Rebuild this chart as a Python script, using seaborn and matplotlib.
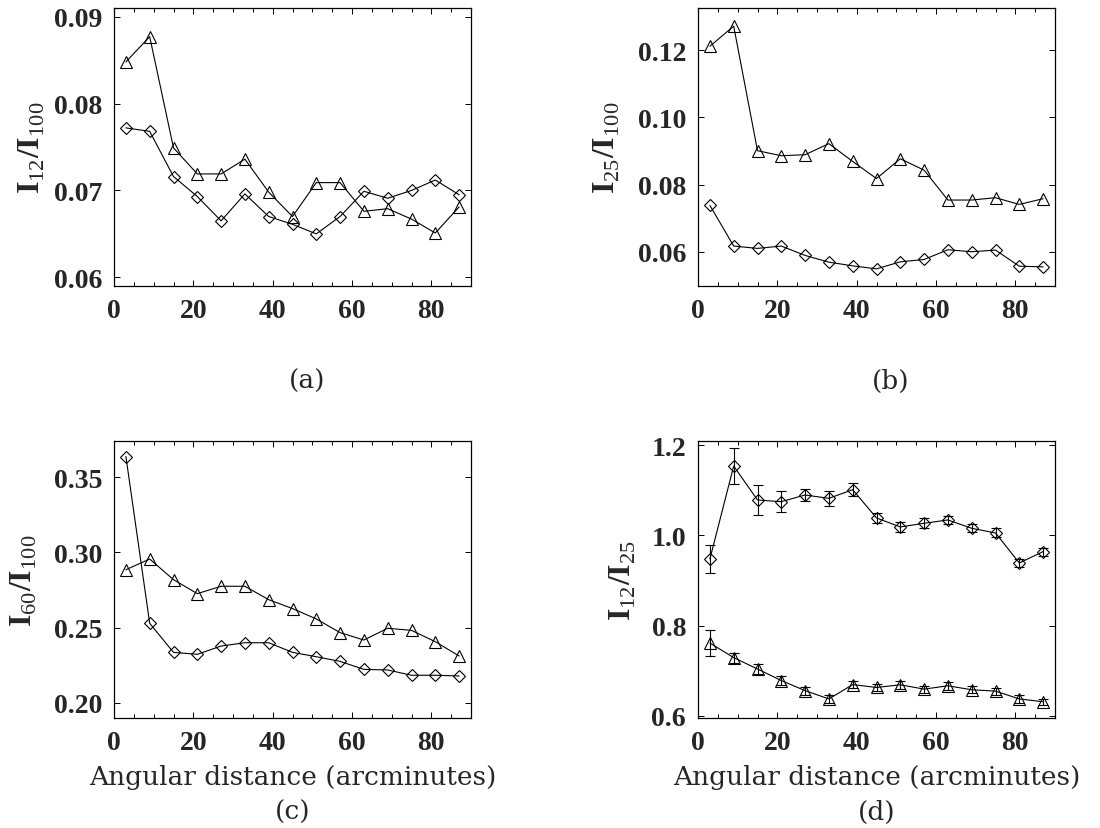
import matplotlib
matplotlib.use("Agg")
import matplotlib.pyplot as plt
from matplotlib.ticker import MultipleLocator, FormatStrFormatter
import seaborn as sns

sns.set_style("ticks")
plt.rcParams['font.family'] = ['DejaVu Serif']
plt.rcParams['mathtext.fontset'] = 'custom'
plt.rcParams['mathtext.rm'] = 'Liberation Serif'
plt.rcParams['mathtext.bf'] = 'Liberation Serif:bold'

# angular distance (arcmin)
dist = [3, 9, 15, 21, 27, 33, 39, 45, 51, 57, 63, 69, 75, 81, 87]

# (a) I12/I100
a_tri = [0.0848, 0.0877, 0.0749, 0.0719, 0.0719, 0.0736, 0.0698, 0.0670,
         0.0709, 0.0709, 0.0676, 0.0679, 0.0667, 0.0651, 0.0681]
a_dia = [0.0772, 0.0768, 0.0716, 0.0693, 0.0665, 0.0696, 0.0670, 0.0661,
         0.0650, 0.0670, 0.0699, 0.0691, 0.0700, 0.0712, 0.0695]
# (b) I25/I100
b_tri = [0.1212, 0.1272, 0.0901, 0.0886, 0.0889, 0.0922, 0.0869, 0.0818,
         0.0877, 0.0843, 0.0754, 0.0754, 0.0761, 0.0741, 0.0758]
b_dia = [0.0738, 0.0617, 0.0610, 0.0617, 0.0589, 0.0569, 0.0558, 0.0549,
         0.0570, 0.0577, 0.0606, 0.0600, 0.0605, 0.0557, 0.0555]
# (c) I60/I100
c_tri = [0.2885, 0.2956, 0.2819, 0.2726, 0.2775, 0.2775, 0.2686, 0.2627,
         0.2558, 0.2467, 0.2418, 0.2496, 0.2482, 0.2407, 0.2312]
c_dia = [0.3637, 0.2529, 0.2336, 0.2323, 0.2378, 0.2400, 0.2400, 0.2336,
         0.2307, 0.2276, 0.2223, 0.2219, 0.2184, 0.2184, 0.2179]
# (d) I12/I25 with errors
d_dia = [0.9476, 1.1535, 1.0782, 1.0745, 1.0893, 1.0819, 1.1011, 1.0384,
         1.0185, 1.0266, 1.0340, 1.0155, 1.0052, 0.9387, 0.9638]
d_dia_err = [0.031, 0.040, 0.034, 0.023, 0.014, 0.017, 0.014, 0.011,
             0.011, 0.011, 0.0096, 0.009, 0.010, 0.009, 0.009]
d_tri = [0.7612, 0.7288, 0.7037, 0.6780, 0.6557, 0.6373, 0.6690, 0.6627,
         0.6686, 0.6590, 0.6664, 0.6576, 0.6546, 0.6373, 0.6310]
d_tri_err = [0.028, 0.011, 0.011, 0.010, 0.009, 0.009, 0.0085, 0.0085,
             0.0085, 0.008, 0.0085, 0.008, 0.008, 0.008, 0.007]

fig = plt.figure(figsize=(11, 8.29), dpi=100)
W, H = 1100, 829


def add_ax(l, t, r, b):
    return fig.add_axes([l / W, 1 - b / H, (r - l) / W, (b - t) / H])


ax_a = add_ax(114, 9, 471, 287)
ax_b = add_ax(698, 9, 1055, 287)
ax_c = add_ax(114, 442, 471, 719)
ax_d = add_ax(698, 442, 1055, 719)

line_kw = dict(color='k', lw=0.8, markerfacecolor='none',
               markeredgecolor='k', markeredgewidth=0.8)


def draw(ax, tri, dia):
    sns.lineplot(x=dist, y=tri, ax=ax, marker='^', markersize=8, **line_kw)
    sns.lineplot(x=dist, y=dia, ax=ax, marker='D', markersize=6, **line_kw)


draw(ax_a, a_tri, a_dia)
draw(ax_b, b_tri, b_dia)
draw(ax_c, c_tri, c_dia)
draw(ax_d, d_tri, d_dia)
ax_d.errorbar(dist, d_dia, yerr=d_dia_err, fmt='none', ecolor='k',
              elinewidth=0.8, capsize=3.5, capthick=0.8)
ax_d.errorbar(dist, d_tri, yerr=d_tri_err, fmt='none', ecolor='k',
              elinewidth=0.8, capsize=3.5, capthick=0.8)

setup = [
    (ax_a, (0.059, 0.091), 0.01, '%.2f', r'$\mathbf{I}_{\mathrm{12}}\mathbf{/I}_{\mathrm{100}}$', -0.188, '(a)', 0.54),
    (ax_b, (0.0498, 0.1326), 0.02, '%.2f', r'$\mathbf{I}_{\mathrm{25}}\mathbf{/I}_{\mathrm{100}}$', -0.213, '(b)', 0.54),
    (ax_c, (0.19, 0.374), 0.05, '%.2f', r'$\mathbf{I}_{\mathrm{60}}\mathbf{/I}_{\mathrm{100}}$', -0.21, '(c)', 0.5),
    (ax_d, (0.595, 1.209), 0.2, '%.1f', r'$\mathbf{I}_{\mathrm{12}}\mathbf{/I}_{\mathrm{25}}$', -0.168, '(d)', 0.5),
]

for ax, ylim, ystep, fmt, ylab, ylx, tag, tagx in setup:
    ax.set_xlim(0, 90)
    ax.set_ylim(*ylim)
    ax.xaxis.set_major_locator(MultipleLocator(20))
    ax.xaxis.set_minor_locator(MultipleLocator(5))
    ax.yaxis.set_major_locator(MultipleLocator(ystep))
    ax.yaxis.set_major_formatter(FormatStrFormatter(fmt))
    ax.tick_params(which='both', direction='in', top=True, right=True,
                   width=0.7, color='k')
    ax.tick_params(which='major', length=4.3, pad=8.6)
    ax.tick_params(which='minor', length=2.9)
    for lab in ax.get_xticklabels() + ax.get_yticklabels():
        lab.set_fontfamily('Liberation Serif')
        lab.set_fontweight('bold')
        lab.set_fontsize(20)
    for sp in ax.spines.values():
        sp.set_linewidth(0.9)
        sp.set_color('k')
    ax.set_ylabel(ylab, fontsize=23)
    ax.yaxis.set_label_coords(ylx, 0.5)
    ax.text(tagx, -0.338, tag, transform=ax.transAxes, ha='center',
            va='center', fontsize=19)

for ax in (ax_c, ax_d):
    ax.set_xlabel('Angular distance (arcminutes)', fontsize=19)
    ax.xaxis.set_label_coords(0.5, -0.165)

fig.savefig('out.png', dpi=100, facecolor='white')
